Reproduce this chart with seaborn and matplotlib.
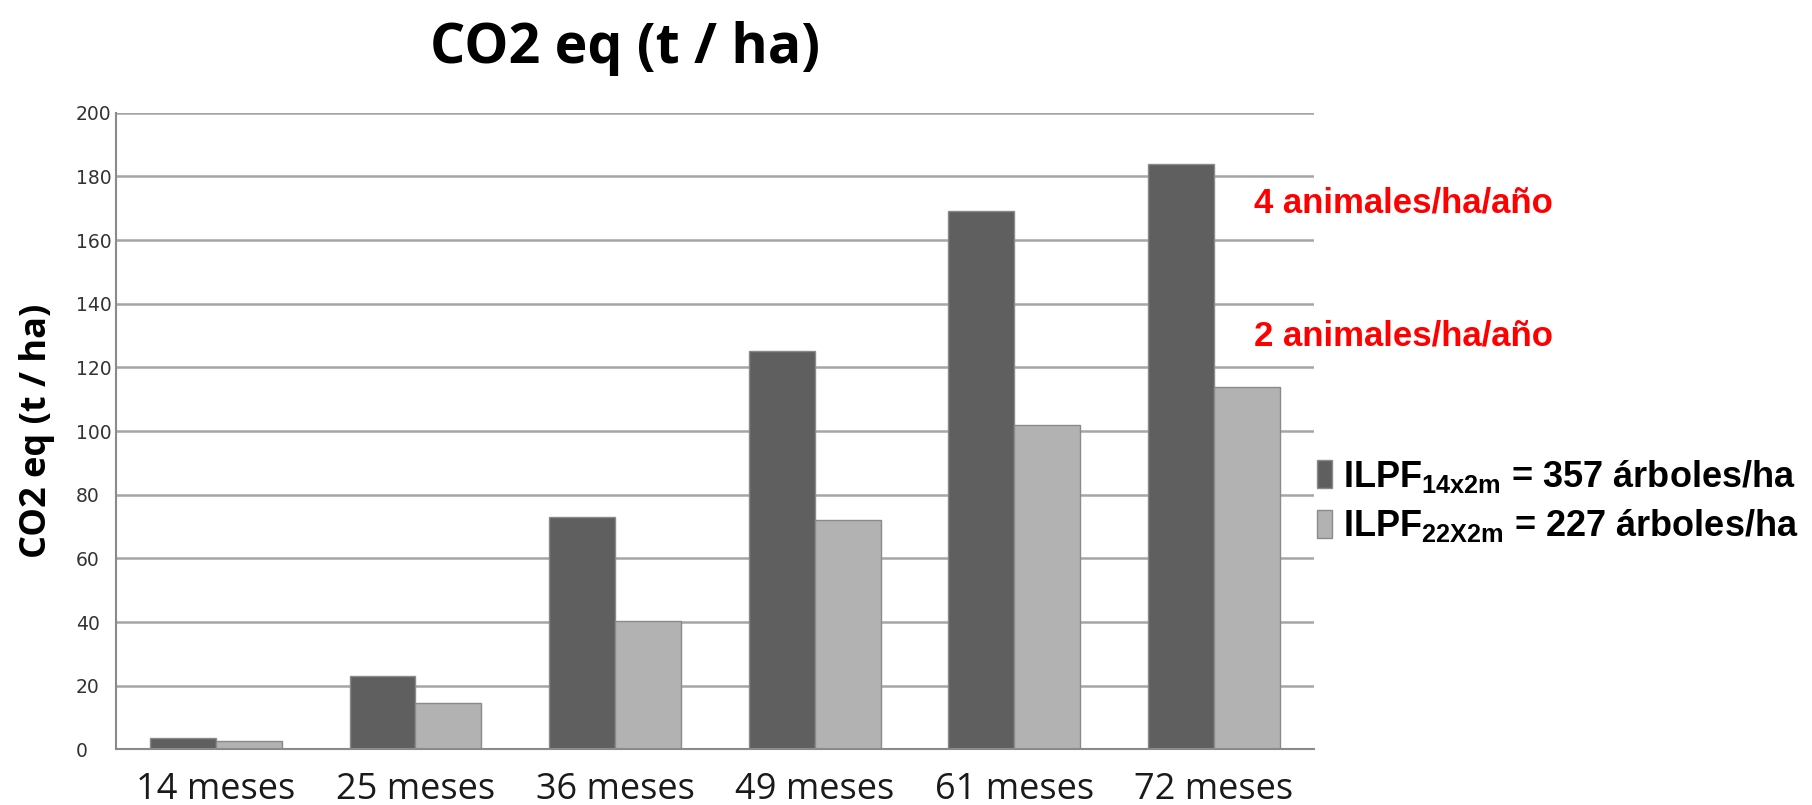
import matplotlib.pyplot as plt
import seaborn as sns
import pandas as pd

# datos
meses = ['14 meses', '25 meses', '36 meses', '49 meses', '61 meses', '72 meses']
ilpf_14x2 = [3.5, 23, 73, 125, 169, 184]
ilpf_22x2 = [2.5, 14.5, 40.5, 72, 102, 114]
lab_14 = r'ILPF$_{\mathrm{14x2m}}$ = 357 árboles/ha'
lab_22 = r'ILPF$_{\mathrm{22X2m}}$ = 227 árboles/ha'
y_ticks = list(range(0, 201, 20))

sns.set_style('white')
plt.rcParams['font.family'] = ['DejaVu Sans']
plt.rcParams['text.color'] = 'black'
plt.rcParams['axes.labelcolor'] = 'black'
plt.rcParams['mathtext.fontset'] = 'custom'
plt.rcParams['mathtext.rm'] = 'Liberation Sans:bold'
plt.rcParams['mathtext.it'] = 'Liberation Sans:bold'
plt.rcParams['mathtext.bf'] = 'Liberation Sans:bold'

df = pd.DataFrame({'mes': meses * 2,
                   'co2': ilpf_14x2 + ilpf_22x2,
                   'serie': [lab_14] * len(meses) + [lab_22] * len(meses)})

fig = plt.figure(figsize=(18.12, 8.05), dpi=100)
ax = fig.add_axes([0.064, 0.069, 0.661, 0.791])

sns.barplot(data=df, x='mes', y='co2', hue='serie', palette=['#5f5f5f', '#b2b2b2'],
            saturation=1, width=0.66, edgecolor='#8a8a8a', linewidth=1, ax=ax)

ax.set_ylim(0, 200)
ax.set_xlim(-0.5, 5.5)
ax.set_yticks(y_ticks)
ax.set_xlabel('')
ax.set_ylabel('CO2 eq (t / ha)', fontsize=26, fontweight='bold', family='Open Sans', color='black')
ax.yaxis.set_label_coords(-0.051, 0.5)

ax.yaxis.grid(True, color='#a5a5a5', linewidth=1.8)
ax.set_axisbelow(True)
for s in ['top', 'right']:
    ax.spines[s].set_visible(False)
for s in ['left', 'bottom']:
    ax.spines[s].set_color('#8a8a8a')
    ax.spines[s].set_linewidth(1.5)

# etiquetas del eje y alineadas a la izquierda, como en Excel
ax.tick_params(axis='y', length=6, width=1.5, color='#a5a5a5', labelsize=13.5,
               labelcolor='#333333', pad=23)
for t in ax.get_yticklabels():
    t.set_horizontalalignment('left')
ax.tick_params(axis='x', which='major', length=0, labelsize=26, labelcolor='#1a1a1a', pad=16)
ax.set_xticks([i - 0.5 for i in range(len(meses) + 1)], minor=True)
ax.tick_params(axis='x', which='minor', length=10, width=1.5, color='#8a8a8a')
for t in ax.get_xticklabels():
    t.set_family('Open Sans')

# textos en rojo
ax.text(0.95, 0.858, '4 animales/ha/año', transform=ax.transAxes, color='red',
        fontsize=25, fontweight='bold', family='Liberation Sans', va='center', ha='left')
ax.text(0.95, 0.649, '2 animales/ha/año', transform=ax.transAxes, color='red',
        fontsize=25, fontweight='bold', family='Liberation Sans', va='center', ha='left')

handles, labels = ax.get_legend_handles_labels()
leg = ax.legend(handles, labels, loc='center left', bbox_to_anchor=(0.976, 0.39), frameon=False,
                prop={'family': 'Liberation Sans', 'weight': 'bold', 'size': 26},
                handlelength=0.4, handleheight=0.8, handletextpad=0.3, labelspacing=0.35)
for t in leg.get_texts():
    t.set_color('black')

fig.text(0.345, 0.94, 'CO2 eq (t / ha)', ha='center', va='center', fontsize=40,
         fontweight='bold', family='Open Sans', color='black')

fig.savefig('out.png', dpi=100)
